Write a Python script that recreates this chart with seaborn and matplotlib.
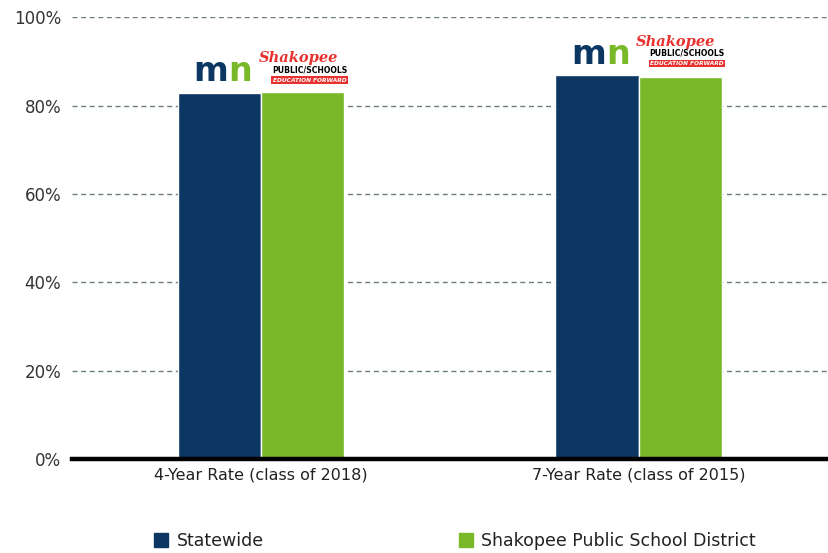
import matplotlib.pyplot as plt
import pandas as pd
import seaborn as sns
from matplotlib.lines import Line2D

# data
categories = ['4-Year Rate (class of 2018)', '7-Year Rate (class of 2015)']
series_names = ['Statewide', 'Shakopee Public School District']
statewide = [82.8, 86.9]
shakopee = [83.1, 86.5]
ytick_values = [0, 20, 40, 60, 80, 100]
ytick_labels = ['0%', '20%', '40%', '60%', '80%', '100%']

NAVY = '#0c3762'
GREEN = '#79b829'
RED = '#e8322f'


def build_frame():
    rows = []
    for cat, s, k in zip(categories, statewide, shakopee):
        rows.append({'category': cat, 'series': series_names[0], 'rate': s})
        rows.append({'category': cat, 'series': series_names[1], 'rate': k})
    return pd.DataFrame(rows)


def draw_logos(ax, i, top):
    # "mn" state logo above the statewide bar
    ax.annotate('m', xy=(i - 0.11, top), xytext=(6.5, 8), textcoords='offset points',
                ha='right', va='baseline', fontsize=24, fontweight='bold',
                color=NAVY, family='DejaVu Sans')
    ax.annotate('n', xy=(i - 0.11, top), xytext=(6.6, 8), textcoords='offset points',
                ha='left', va='baseline', fontsize=24, fontweight='bold',
                color=GREEN, family='DejaVu Sans')
    # Shakopee logo above the district bar
    ax.annotate('Shakopee', xy=(i + 0.11, top), xytext=(-3, 19), textcoords='offset points',
                ha='center', va='bottom', fontsize=10.5, fontweight='bold', style='italic',
                color=RED, family='DejaVu Serif')
    ax.annotate('PUBLIC/SCHOOLS', xy=(i + 0.11, top), xytext=(5, 12.5), textcoords='offset points',
                ha='center', va='bottom', fontsize=5.6, fontweight='bold',
                color='black', family='DejaVu Sans')
    ax.annotate('EDUCATION FORWARD', xy=(i + 0.11, top), xytext=(5, 6.5), textcoords='offset points',
                ha='center', va='bottom', fontsize=4.2, fontweight='bold', style='italic',
                color='white', family='DejaVu Sans',
                bbox=dict(boxstyle='square,pad=0.25', fc=RED, ec='none'))


def plot_rates():
    sns.set_style('white')
    plt.rcParams['font.family'] = ['DejaVu Sans']
    df = build_frame()

    fig = plt.figure(figsize=(8.29, 5.53), dpi=100)
    ax = fig.add_axes([0.087, 0.170, 0.911, 0.799])

    sns.barplot(data=df, x='category', y='rate', hue='series',
                palette=[NAVY, GREEN], saturation=1, width=0.44, edgecolor='white',
                linewidth=1, legend=False, ax=ax, zorder=3)

    ax.set_xlim(-0.5, 1.5)
    ax.set_ylim(0, 100)
    ax.set_yticks(ytick_values)
    ax.set_yticklabels(ytick_labels)
    ax.set_xlabel('')
    ax.set_ylabel('')
    ax.tick_params(axis='y', length=0, pad=8, labelsize=12, labelcolor='#333333')
    ax.tick_params(axis='x', length=0, pad=6, labelsize=11.5, labelcolor='#222222')

    ax.yaxis.grid(True, color='#6a7b7b', linestyle=(0, (3.6, 2.6)), linewidth=1.0, zorder=0)
    ax.set_axisbelow(True)
    for side in ['top', 'right', 'left']:
        ax.spines[side].set_visible(False)
    ax.spines['bottom'].set_color('black')
    ax.spines['bottom'].set_linewidth(3.2)
    ax.spines['bottom'].set_zorder(4)

    for i in range(len(categories)):
        draw_logos(ax, i, max(statewide[i], shakopee[i]))

    handles = [Line2D([], [], marker='s', linestyle='none', markersize=9.5,
                      markerfacecolor=c, markeredgecolor=c) for c in [NAVY, GREEN]]
    fig.legend(handles, series_names, loc='center', bbox_to_anchor=(0.549, 0.022),
               ncol=2, frameon=False, fontsize=12.5, handlelength=0.8,
               handletextpad=0.5, columnspacing=11.2, labelcolor='#222222')

    fig.savefig('out.png', dpi=100)


if __name__ == '__main__':
    plot_rates()
